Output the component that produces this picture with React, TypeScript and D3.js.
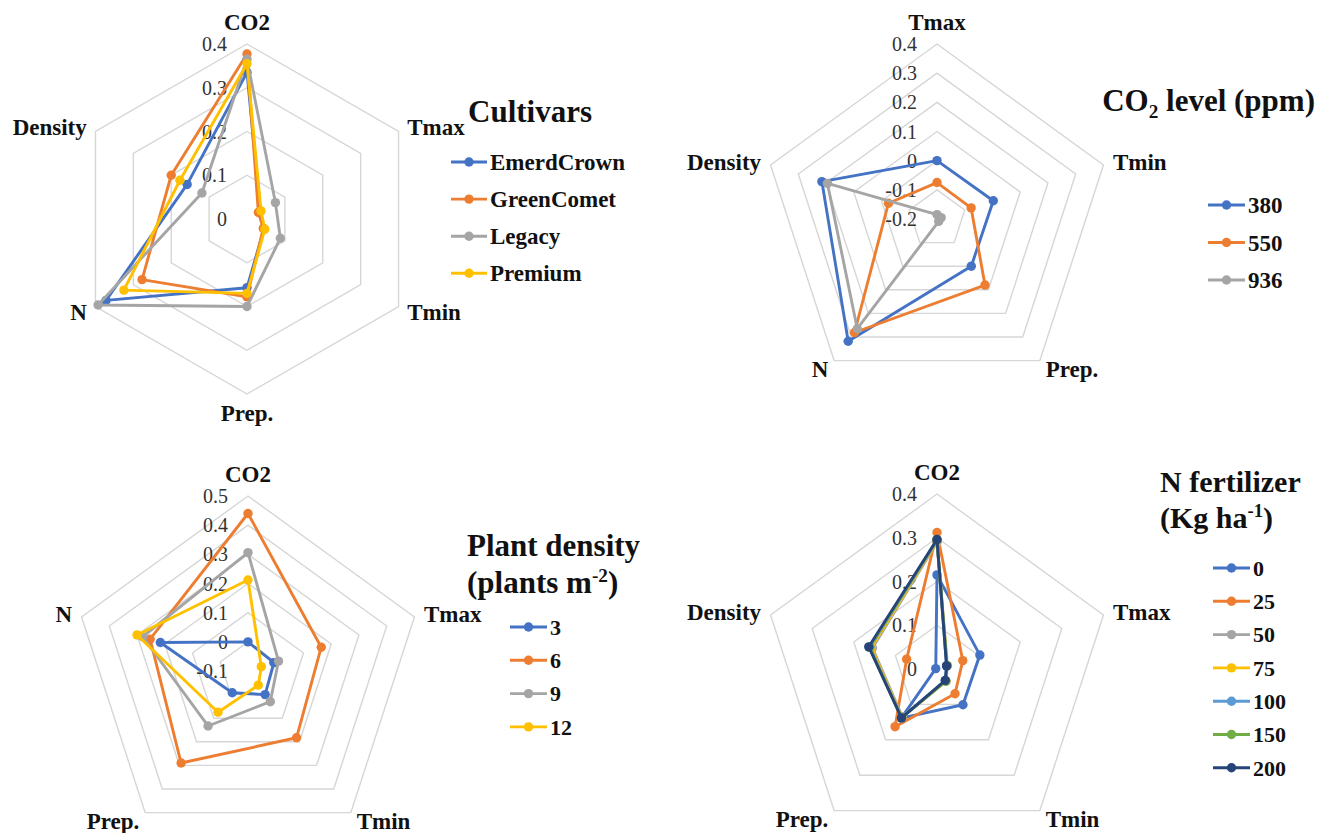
import React from 'react';
import * as d3 from 'd3';

// ---- data ----
const cultivarAxes = ['CO2', 'Tmax', 'Tmin', 'Prep.', 'N', 'Density'];
const cultivarTicks = [0, 0.1, 0.2, 0.3, 0.4];
const cultivarNames = ['EmerdCrown', 'GreenComet', 'Legacy', 'Premium'];
const cultivarValues = [
  [0.335, 0.035, 0.045, 0.157, 0.372, 0.158],
  [0.377, 0.03, 0.043, 0.178, 0.277, 0.2],
  [0.365, 0.075, 0.088, 0.2, 0.393, 0.119],
  [0.355, 0.037, 0.047, 0.17, 0.325, 0.177],
];

const co2Axes = ['Tmax', 'Tmin', 'Prep.', 'N', 'Density'];
const co2Ticks = [-0.2, -0.1, 0, 0.1, 0.2, 0.3, 0.4];
const co2Names = ['380', '550', '936'];
const co2Values = [
  [0.0, 0.003, 0.0, 0.318, 0.215],
  [-0.075, -0.077, 0.08, 0.281, -0.025],
  [-0.185, -0.185, -0.19, 0.265, 0.195],
];

const densityAxes = ['CO2', 'Tmax', 'Tmin', 'Prep.', 'N'];
const densityTicks = [-0.1, 0, 0.1, 0.2, 0.3, 0.4, 0.5];
const densityNames = ['3', '6', '9', '12'];
const densityValues = [
  [0.0, -0.007, 0.0, -0.008, 0.216],
  [0.44, 0.164, 0.183, 0.29, 0.253],
  [0.306, 0.01, 0.03, 0.133, 0.28],
  [0.212, -0.052, -0.04, 0.075, 0.3],
];

const nAxes = ['CO2', 'Tmax', 'Tmin', 'Prep.', 'Density'];
const nTicks = [0, 0.1, 0.2, 0.3, 0.4];
const nNames = ['0', '25', '50', '75', '100', '150', '200'];
const nValues = [
  [0.215, 0.103, 0.101, 0.139, 0.003],
  [0.312, 0.062, 0.07, 0.163, 0.073],
  [0.29, 0.025, 0.035, 0.135, 0.155],
  [0.292, 0.024, 0.034, 0.137, 0.158],
  [0.294, 0.023, 0.033, 0.138, 0.161],
  [0.295, 0.024, 0.034, 0.138, 0.162],
  [0.296, 0.023, 0.032, 0.138, 0.164],
];

const officeColors = ['#4472C4', '#ED7D31', '#A5A5A5', '#FFC000', '#5B9BD5', '#70AD47', '#264478'];

const FONT = "'Liberation Serif', 'Times New Roman', 'DejaVu Serif', serif";
const R = 175;

type TitleLine = { text: string; sup?: string; sub?: string; rest?: string };

type PanelCfg = {
  cx: number;
  cy: number;
  axes: string[];
  ticks: number[];
  names: string[];
  values: number[][];
  legend: { x1: number; x2: number; y0: number; step: number; size: number };
  title: { x: number; y0: number; step: number; size: number; anchor: string; lines: TitleLine[] };
};

const panels: PanelCfg[] = [
  {
    cx: 247, cy: 219, axes: cultivarAxes, ticks: cultivarTicks, names: cultivarNames, values: cultivarValues,
    legend: { x1: 451, x2: 487, y0: 162, step: 37.1, size: 23 },
    title: { x: 468, y0: 122, step: 0, size: 31, anchor: 'start', lines: [{ text: 'Cultivars' }] },
  },
  {
    cx: 937, cy: 219, axes: co2Axes, ticks: co2Ticks, names: co2Names, values: co2Values,
    legend: { x1: 1208, x2: 1245, y0: 205, step: 37.5, size: 23 },
    title: { x: 1315, y0: 111, step: 0, size: 31, anchor: 'end', lines: [{ text: 'CO', sub: '2', rest: ' level (ppm)' }] },
  },
  {
    cx: 248, cy: 671, axes: densityAxes, ticks: densityTicks, names: densityNames, values: densityValues,
    legend: { x1: 510, x2: 547, y0: 627, step: 33.3, size: 22 },
    title: {
      x: 467, y0: 556, step: 37, size: 31, anchor: 'start',
      lines: [{ text: 'Plant density' }, { text: '(plants m', sup: '-2', rest: ')' }],
    },
  },
  {
    cx: 937, cy: 669, axes: nAxes, ticks: nTicks, names: nNames, values: nValues,
    legend: { x1: 1213, x2: 1250, y0: 568, step: 33.3, size: 22 },
    title: {
      x: 1160, y0: 492, step: 36, size: 30, anchor: 'start',
      lines: [{ text: 'N fertilizer' }, { text: '(Kg ha', sup: '-1', rest: ')' }],
    },
  },
];

function RadarPanel({ cfg }: { cfg: PanelCfg }) {
  const n = cfg.axes.length;
  const [min, max] = d3.extent(cfg.ticks) as [number, number];
  const r = d3.scaleLinear().domain([min, max]).range([0, R]);
  const angle = d3.scaleLinear().domain([0, n]).range([0, 2 * Math.PI]);
  const line = d3
    .lineRadial<number>()
    .angle((_, i) => angle(i))
    .radius((d) => r(d))
    .curve(d3.curveLinearClosed);

  const { legend, title } = cfg;

  return (
    <g>
      <g transform={`translate(${cfg.cx},${cfg.cy})`}>
        {/* grid rings */}
        {cfg.ticks.slice(1).map((t) => (
          <path key={t} d={line(Array(n).fill(t)) || ''} fill="none" stroke="#d6d6d6" strokeWidth={1.4} />
        ))}

        {/* tick labels */}
        {cfg.ticks.map((t) => (
          <text key={'t' + t} x={-20} y={-r(t)} dy="0.35em" textAnchor="end" fontSize={20} fill="#333">
            {String(t)}
          </text>
        ))}

        {/* category labels */}
        {cfg.axes.map((a, i) => {
          const [lx, ly] = d3.pointRadial(angle(i), R + 10);
          const sx = Math.sin(angle(i));
          const sy = -Math.cos(angle(i));
          const anchor = sx > 0.3 ? 'start' : sx < -0.3 ? 'end' : 'middle';
          const dy = sy < -0.9 ? -4 : sy > 0.9 ? 17 : '0.35em';
          return (
            <text key={a} x={lx} y={ly} dy={dy} textAnchor={anchor} fontSize={23} fontWeight="bold" fill="#111">
              {a}
            </text>
          );
        })}

        {/* series */}
        {cfg.values.map((vals, s) => (
          <g key={s}>
            <path d={line(vals) || ''} fill="none" stroke={officeColors[s]} strokeWidth={2.9} strokeLinejoin="round" />
            {vals.map((v, i) => {
              const [px, py] = d3.pointRadial(angle(i), r(v));
              return <circle key={i} cx={px} cy={py} r={4.7} fill={officeColors[s]} />;
            })}
          </g>
        ))}
      </g>

      {/* title */}
      {title.lines.map((ln, k) => (
        <text
          key={k}
          x={title.x}
          y={title.y0 + k * title.step}
          textAnchor={title.anchor}
          fontSize={title.size}
          fontWeight="bold"
          fill="#111"
        >
          {ln.text}
          {ln.sub && (
            <tspan fontSize={title.size * 0.62} dy={7}>
              {ln.sub}
            </tspan>
          )}
          {ln.sup && (
            <tspan fontSize={title.size * 0.62} dy={-11}>
              {ln.sup}
            </tspan>
          )}
          {ln.rest && <tspan dy={ln.sub ? -7 : ln.sup ? 11 : 0}>{ln.rest}</tspan>}
        </text>
      ))}

      {/* legend */}
      {cfg.names.map((name, s) => {
        const y = legend.y0 + s * legend.step;
        return (
          <g key={name}>
            <line x1={legend.x1} x2={legend.x2} y1={y} y2={y} stroke={officeColors[s]} strokeWidth={2.9} />
            <circle cx={(legend.x1 + legend.x2) / 2} cy={y} r={4.7} fill={officeColors[s]} />
            <text x={legend.x2 + 3} y={y} dy="0.35em" fontSize={legend.size} fontWeight="bold" fill="#111">
              {name}
            </text>
          </g>
        );
      })}
    </g>
  );
}

export default function App() {
  return (
    <svg
      width={1322}
      height={833}
      style={{ position: 'absolute', left: 0, top: 0, background: '#fff' }}
      fontFamily={FONT}
    >
      <rect width={1322} height={833} fill="#fff" />
      {panels.map((p, i) => (
        <RadarPanel key={i} cfg={p} />
      ))}
    </svg>
  );
}
